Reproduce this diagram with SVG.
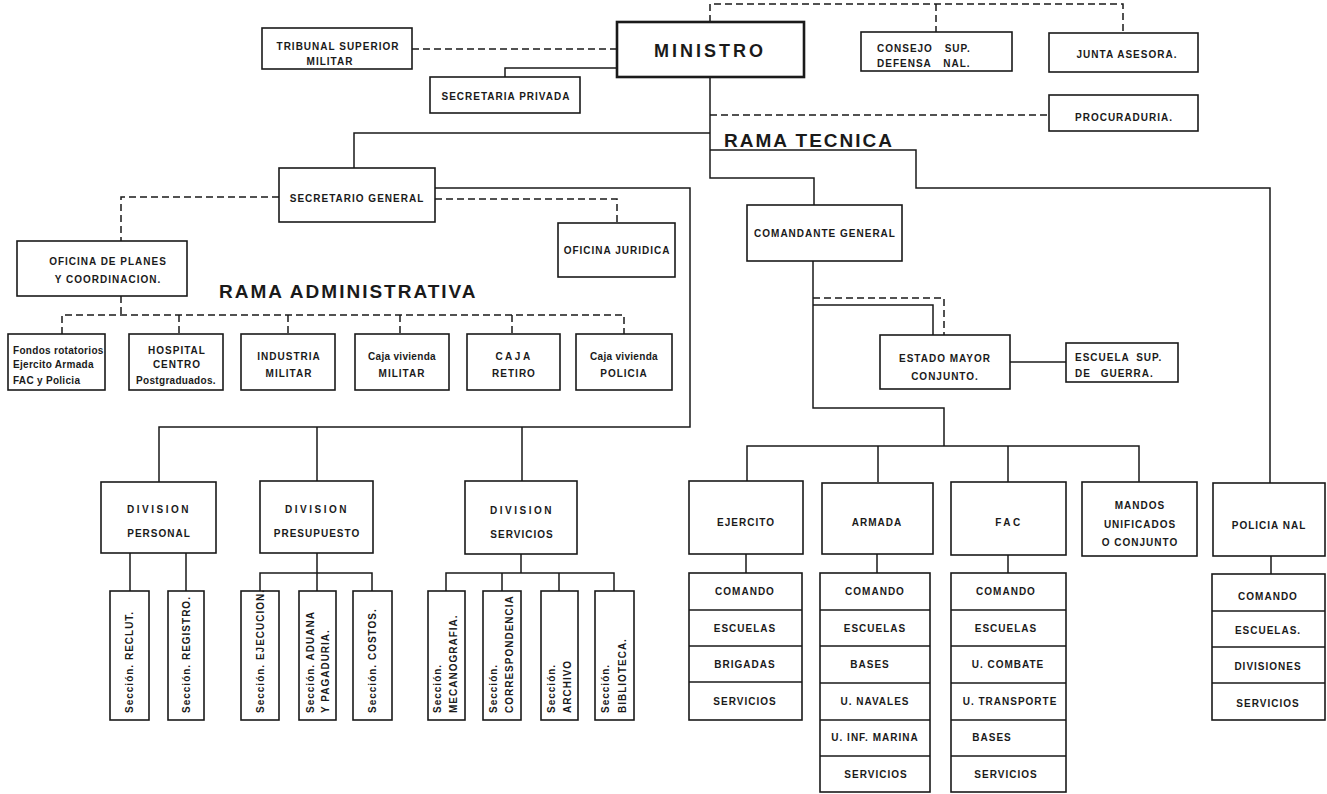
<svg xmlns="http://www.w3.org/2000/svg" width="1327" height="794" viewBox="0 0 1327 794">
<style>
.b{fill:#fff;stroke:#1a1a1a;stroke-width:1.6}
.bt{fill:#fff;stroke:#1a1a1a;stroke-width:2.6}
.l{fill:none;stroke:#1a1a1a;stroke-width:1.5}
.d{fill:none;stroke:#1a1a1a;stroke-width:1.5;stroke-dasharray:7 4}
text{font-family:"Liberation Sans",Arial,sans-serif;font-weight:bold;font-size:10px;fill:#1a1a1a;letter-spacing:1px;text-anchor:middle}
.s{text-anchor:start}
.big{font-size:19px;letter-spacing:2px}
.min{font-size:18px;letter-spacing:3px}
.w{letter-spacing:2.5px}
.lc{letter-spacing:0.3px}
</style>
<rect width="1327" height="794" fill="#fff"/>
<g id="connectors">
<path class="d" d="M412 49H617"/>
<path class="l" d="M617 68H505V77"/>
<path class="d" d="M710 22V4H1123V33M936 4V32"/>
<path class="d" d="M710 115H1049"/>
<path class="l" d="M710 77V178H814V205"/>
<path class="l" d="M710 133H354V168"/>
<path class="l" d="M710 150H916V188H1270V483"/>
<path class="l" d="M435 188H690V427H159V482M317 427V482M522 427V482"/>
<path class="d" d="M279 197H121V241"/>
<path class="d" d="M435 199H617V223"/>
<path class="d" d="M121 296V315M62 334V315H624V334M179 315V334M288 315V334M400 315V334M512 315V334"/>
<path class="l" d="M130 553V591M186 553V591"/>
<path class="l" d="M317 553V573M260 591V573H372V591M317 573V591"/>
<path class="l" d="M521 554V573M446 591V573H614V591M502 573V591M559 573V591"/>
<path class="l" d="M813 261V408H944V446M747 482V446H1139V482M878 446V482M1008 446V482"/>
<path class="l" d="M813 305H933V335"/>
<path class="d" d="M813 298H944V335"/>
<path class="l" d="M1010 362H1066"/>
<path class="l" d="M746 554V573M877 554V573M1008 555V573M1271 556V574"/>
</g>
<g id="tribunal"><rect class="b" x="262" y="28" width="150" height="41"/><text x="338" y="50">TRIBUNAL SUPERIOR</text><text x="330" y="65">MILITAR</text></g>
<g id="ministro"><rect class="bt" x="617" y="22" width="187" height="55"/><text class="min" x="710" y="57">MINISTRO</text></g>
<g id="secretaria-privada"><rect class="b" x="430" y="77" width="150" height="36"/><text x="506" y="100">SECRETARIA PRIVADA</text></g>
<g id="consejo"><rect class="b" x="861" y="32" width="151" height="39"/><text class="s" x="877" y="52" word-spacing="8">CONSEJO SUP.</text><text class="s" x="877" y="67" word-spacing="8">DEFENSA NAL.</text></g>
<g id="junta"><rect class="b" x="1049" y="33" width="149" height="39"/><text x="1127" y="58">JUNTA ASESORA.</text></g>
<g id="procuraduria"><rect class="b" x="1049" y="95" width="149" height="36"/><text x="1124" y="121">PROCURADURIA.</text></g>
<text class="big s" x="724" y="147">RAMA TECNICA</text>
<g id="secretario-general"><rect class="b" x="279" y="168" width="156" height="54"/><text x="357" y="202">SECRETARIO GENERAL</text></g>
<g id="oficina-juridica"><rect class="b" x="558" y="223" width="117" height="54"/><text x="617" y="254">OFICINA JURIDICA</text></g>
<g id="oficina-planes"><rect class="b" x="17" y="241" width="170" height="55"/><text x="108" y="265">OFICINA DE PLANES</text><text x="108" y="283">Y COORDINACION.</text></g>
<text class="big s" x="219" y="298">RAMA ADMINISTRATIVA</text>
<g id="fondos"><rect class="b" x="8" y="334" width="97" height="56"/><text class="s lc" x="13" y="354">Fondos rotatorios</text><text class="s lc" x="13" y="368">Ejercito Armada</text><text class="s lc" x="13" y="384">FAC y Policia</text></g>
<g id="hospital"><rect class="b" x="129" y="334" width="94" height="56"/><text x="177" y="354">HOSPITAL</text><text x="177" y="368">CENTRO</text><text class="lc" x="176" y="384">Postgraduados.</text></g>
<g id="industria"><rect class="b" x="241" y="334" width="94" height="56"/><text x="289" y="360">INDUSTRIA</text><text x="289" y="377">MILITAR</text></g>
<g id="caja-militar"><rect class="b" x="355" y="334" width="94" height="56"/><text class="lc" x="402" y="360">Caja vivienda</text><text x="402" y="377">MILITAR</text></g>
<g id="caja-retiro"><rect class="b" x="467" y="334" width="93" height="56"/><text class="w" x="514" y="360">CAJA</text><text x="514" y="377">RETIRO</text></g>
<g id="caja-policia"><rect class="b" x="576" y="334" width="96" height="56"/><text class="lc" x="624" y="360">Caja vivienda</text><text x="624" y="377">POLICIA</text></g>
<g id="comandante-general"><rect class="b" x="747" y="205" width="155" height="56"/><text x="825" y="237">COMANDANTE GENERAL</text></g>
<g id="estado-mayor"><rect class="b" x="880" y="335" width="130" height="54"/><text x="945" y="362">ESTADO MAYOR</text><text x="945" y="380">CONJUNTO.</text></g>
<g id="escuela-sup"><rect class="b" x="1066" y="343" width="112" height="39"/><text class="s" x="1075" y="361" word-spacing="3">ESCUELA SUP.</text><text class="s" x="1075" y="377" word-spacing="6">DE GUERRA.</text></g>
<g id="div-personal"><rect class="b" x="101" y="482" width="115" height="71"/><text class="w" x="159" y="513">DIVISION</text><text x="159" y="537">PERSONAL</text></g>
<g id="div-presupuesto"><rect class="b" x="260" y="481" width="113" height="72"/><text class="w" x="317" y="513">DIVISION</text><text x="317" y="537">PRESUPUESTO</text></g>
<g id="div-servicios"><rect class="b" x="465" y="481" width="112" height="73"/><text class="w" x="522" y="514">DIVISION</text><text x="522" y="538">SERVICIOS</text></g>
<g id="sec-reclut"><rect class="b" x="110" y="591" width="39" height="129"/><text class="s" transform="translate(133,713) rotate(-90)">Sección. RECLUT.</text></g>
<g id="sec-registro"><rect class="b" x="168" y="591" width="36" height="129"/><text class="s" transform="translate(190,713) rotate(-90)">Sección. REGISTRO.</text></g>
<g id="sec-ejecucion"><rect class="b" x="241" y="591" width="38" height="129"/><text class="s" transform="translate(264,713) rotate(-90)">Sección. EJECUCION.</text></g>
<g id="sec-aduana"><rect class="b" x="299" y="591" width="37" height="129"/><text class="s" transform="translate(314,713) rotate(-90)">Sección. ADUANA</text><text class="s" transform="translate(329,713) rotate(-90)">Y PAGADURIA.</text></g>
<g id="sec-costos"><rect class="b" x="353" y="591" width="39" height="129"/><text class="s" transform="translate(376,713) rotate(-90)">Sección. COSTOS.</text></g>
<g id="sec-mecanografia"><rect class="b" x="428" y="591" width="37" height="129"/><text class="s" transform="translate(441,713) rotate(-90)">Sección.</text><text class="s" transform="translate(457,713) rotate(-90)">MECANOGRAFIA.</text></g>
<g id="sec-correspondencia"><rect class="b" x="483" y="591" width="38" height="129"/><text class="s" transform="translate(497,713) rotate(-90)">Sección.</text><text class="s" transform="translate(513,713) rotate(-90)">CORRESPONDENCIA</text></g>
<g id="sec-archivo"><rect class="b" x="541" y="591" width="37" height="129"/><text class="s" transform="translate(555,713) rotate(-90)">Sección.</text><text class="s" transform="translate(571,713) rotate(-90)">ARCHIVO</text></g>
<g id="sec-biblioteca"><rect class="b" x="595" y="591" width="39" height="129"/><text class="s" transform="translate(609,713) rotate(-90)">Sección.</text><text class="s" transform="translate(626,713) rotate(-90)">BIBLIOTECA.</text></g>
<g id="ejercito"><rect class="b" x="689" y="481" width="114" height="73"/><text x="746" y="526">EJERCITO</text></g>
<g id="armada"><rect class="b" x="822" y="483" width="111" height="71"/><text x="877" y="526">ARMADA</text></g>
<g id="fac"><rect class="b" x="951" y="482" width="115" height="73"/><text class="w" x="1009" y="526">FAC</text></g>
<g id="mandos"><rect class="b" x="1082" y="482" width="115" height="74"/><text x="1140" y="509">MANDOS</text><text x="1140" y="528">UNIFICADOS</text><text x="1140" y="546">O CONJUNTO</text></g>
<g id="policia-nal"><rect class="b" x="1213" y="483" width="112" height="73"/><text x="1269" y="529">POLICIA NAL</text></g>
<g id="ejercito-stack"><rect class="b" x="689" y="573" width="113" height="147"/><path class="l" d="M689 610H802M689 646H802M689 682H802"/><text x="745" y="595">COMANDO</text><text x="745" y="632">ESCUELAS</text><text x="745" y="668">BRIGADAS</text><text x="745" y="705">SERVICIOS</text></g>
<g id="armada-stack"><rect class="b" x="820" y="573" width="110" height="219"/><path class="l" d="M820 610H930M820 646H930M820 683H930M820 720H930M820 756H930"/><text x="875" y="595">COMANDO</text><text x="875" y="632">ESCUELAS</text><text x="870" y="668">BASES</text><text x="875" y="705">U. NAVALES</text><text x="875" y="741">U. INF. MARINA</text><text x="876" y="778">SERVICIOS</text></g>
<g id="fac-stack"><rect class="b" x="951" y="573" width="115" height="219"/><path class="l" d="M951 610H1066M951 646H1066M951 683H1066M951 720H1066M951 756H1066"/><text x="1006" y="595">COMANDO</text><text x="1006" y="632">ESCUELAS</text><text x="1008" y="668">U. COMBATE</text><text x="1010" y="705">U. TRANSPORTE</text><text x="992" y="741">BASES</text><text x="1006" y="778">SERVICIOS</text></g>
<g id="policia-stack"><rect class="b" x="1212" y="574" width="113" height="146"/><path class="l" d="M1212 611H1325M1212 647H1325M1212 683H1325"/><text x="1268" y="600">COMANDO</text><text x="1268" y="634">ESCUELAS.</text><text x="1268" y="670">DIVISIONES</text><text x="1268" y="707">SERVICIOS</text></g>
</svg>
